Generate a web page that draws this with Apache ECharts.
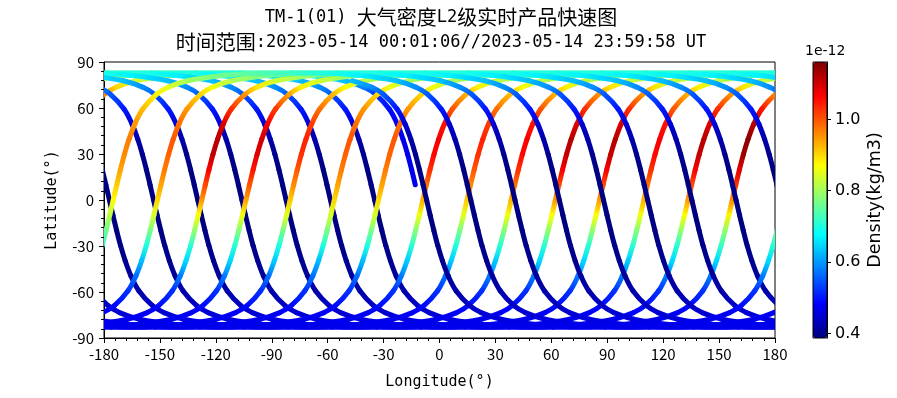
<!DOCTYPE html>
<html>
<head>
<meta charset="utf-8">
<script src="https://cdn.jsdelivr.net/npm/echarts@6/dist/echarts.min.js"></script>
<style>
  html, body { margin: 0; background: #fff; }
  #chart { width: 897px; height: 398px; }
</style>
</head>
<body>
<div id="chart"></div>
<script>
// shape of one orbit, relative to its ascending node:
// south apex -> ascending node -> north apex -> descending node -> south apex
const trackDLon = [95.92, 76.00, 59.92, 39.91, 29.40, 23.12, 15.87, 11.55, 8.47, 6.00, 3.86, 1.89, 0,
  -1.89, -3.86, -6.00, -8.47, -11.55, -15.87, -23.12, -29.40, -39.91, -59.92, -76.00, -95.92,
  -115.84, -131.92, -151.93, -162.44, -168.72, -175.97, -180.29, -183.37, -185.84, -187.98, -189.95, -191.84,
  -193.73, -195.70, -197.84, -200.31, -203.39, -207.71, -214.96, -221.24, -231.75, -251.76, -267.84, -287.76]
const trackLat = [-83.0, -82.6, -81.4, -77.8, -73.5, -68.9, -59.3, -49.5, -39.6, -29.8, -19.8, -9.9, 0,
  9.9, 19.8, 29.8, 39.6, 49.5, 59.3, 68.9, 73.5, 77.8, 81.4, 82.6, 83.0,
  82.6, 81.4, 77.8, 73.5, 68.9, 59.3, 49.5, 39.6, 29.8, 19.8, 9.9, 0,
  -9.9, -19.8, -29.8, -39.6, -49.5, -59.3, -68.9, -73.5, -77.8, -81.4, -82.6, -83.0]

// ascending node longitude of each orbit of the day (in time order)
const nodeLon = [-11.1, -34.8, -58.5, -82.3, -106.0, -129.7, -153.4, -177.1,
  159.1, 135.4, 111.7, 88.0, 64.3, 40.5, 16.8, -6.9]
// first / last point of the track drawn for each orbit (data starts and ends mid-orbit)
const passFrom = [13, 0, 0, 0, 0, 0, 0, 0, 0, 0, 0, 0, 0, 0, 0, 0]
const passTo = [48, 48, 48, 48, 48, 48, 48, 48, 48, 48, 48, 48, 48, 48, 48, 21]

// density (1e-12 kg/m3) on the night (ascending) half, points 0..24
const nightDensity = [0.47, 0.47, 0.47, 0.46, 0.45, 0.44, 0.42, 0.41, 0.40, 0.395, 0.39, 0.39, 0.39,
  0.39, 0.39, 0.40, 0.42, 0.45, 0.50, 0.55, 0.59, 0.63, 0.67, 0.70, 0.72]
// first orbit starts at point 13
const firstNightDensity = [0.47, 0.47, 0.47, 0.47, 0.48, 0.49, 0.52, 0.58, 0.63, 0.67, 0.70, 0.72]
// density on the day (descending) half, points 25..48, one row per orbit
const dayDensity = [
  [0.75, 0.78, 0.84, 0.90, 0.96, 1.05, 1.12, 1.15, 1.14, 1.09, 1.03, 0.96, 0.88, 0.79, 0.72, 0.65, 0.58, 0.52, 0.49, 0.48, 0.47, 0.47, 0.47, 0.47],
  [0.75, 0.78, 0.83, 0.89, 0.95, 1.03, 1.09, 1.12, 1.11, 1.07, 1.01, 0.95, 0.87, 0.79, 0.71, 0.65, 0.58, 0.52, 0.49, 0.48, 0.47, 0.47, 0.47, 0.47],
  [0.75, 0.77, 0.82, 0.88, 0.93, 1.00, 1.05, 1.07, 1.06, 1.03, 0.98, 0.93, 0.86, 0.78, 0.71, 0.64, 0.58, 0.52, 0.49, 0.48, 0.47, 0.47, 0.47, 0.47],
  [0.75, 0.78, 0.83, 0.89, 0.95, 1.03, 1.09, 1.12, 1.11, 1.07, 1.01, 0.95, 0.87, 0.79, 0.71, 0.65, 0.58, 0.52, 0.49, 0.48, 0.47, 0.47, 0.47, 0.47],
  [0.75, 0.78, 0.83, 0.89, 0.95, 1.03, 1.09, 1.12, 1.11, 1.07, 1.01, 0.95, 0.87, 0.79, 0.71, 0.65, 0.58, 0.52, 0.49, 0.48, 0.47, 0.47, 0.47, 0.47],
  [0.75, 0.77, 0.82, 0.88, 0.93, 1.00, 1.05, 1.07, 1.06, 1.03, 0.98, 0.93, 0.86, 0.78, 0.71, 0.64, 0.58, 0.52, 0.49, 0.48, 0.47, 0.47, 0.47, 0.47],
  [0.74, 0.77, 0.82, 0.87, 0.92, 0.98, 1.02, 1.04, 1.03, 1.00, 0.96, 0.91, 0.85, 0.77, 0.70, 0.64, 0.57, 0.52, 0.49, 0.48, 0.47, 0.47, 0.47, 0.47],
  [0.75, 0.77, 0.82, 0.88, 0.93, 1.00, 1.05, 1.07, 1.06, 1.03, 0.98, 0.93, 0.86, 0.78, 0.71, 0.64, 0.58, 0.52, 0.49, 0.48, 0.47, 0.47, 0.47, 0.47],
  [0.74, 0.76, 0.81, 0.86, 0.90, 0.95, 0.98, 1.00, 0.99, 0.97, 0.94, 0.90, 0.84, 0.77, 0.70, 0.63, 0.57, 0.52, 0.49, 0.48, 0.47, 0.47, 0.47, 0.47],
  [0.74, 0.76, 0.81, 0.86, 0.90, 0.95, 0.98, 1.00, 0.99, 0.97, 0.94, 0.90, 0.84, 0.77, 0.70, 0.63, 0.57, 0.52, 0.49, 0.48, 0.47, 0.47, 0.47, 0.47],
  [0.74, 0.77, 0.82, 0.87, 0.92, 0.98, 1.02, 1.04, 1.03, 1.00, 0.96, 0.91, 0.85, 0.77, 0.70, 0.64, 0.57, 0.52, 0.49, 0.48, 0.47, 0.47, 0.47, 0.47],
  [0.75, 0.77, 0.83, 0.88, 0.94, 1.02, 1.07, 1.10, 1.09, 1.05, 1.00, 0.94, 0.86, 0.78, 0.71, 0.65, 0.58, 0.52, 0.49, 0.48, 0.47, 0.47, 0.47, 0.47],
  [0.75, 0.78, 0.83, 0.89, 0.95, 1.03, 1.09, 1.12, 1.11, 1.07, 1.01, 0.95, 0.87, 0.79, 0.71, 0.65, 0.58, 0.52, 0.49, 0.48, 0.47, 0.47, 0.47, 0.47],
  [0.74, 0.76, 0.81, 0.86, 0.90, 0.95, 0.98, 1.00, 0.99, 0.97, 0.94, 0.90, 0.84, 0.77, 0.70, 0.63, 0.57, 0.52, 0.49, 0.48, 0.47, 0.47, 0.47, 0.47],
  [0.74, 0.76, 0.80, 0.85, 0.88, 0.92, 0.95, 0.97, 0.96, 0.94, 0.91, 0.87, 0.82, 0.76, 0.71, 0.65, 0.58, 0.52, 0.49, 0.48, 0.47, 0.47, 0.47, 0.47]
]

const densityMin = 0.387
const densityMax = 1.161
const densityTicks = [0.4, 0.6, 0.8, 1.0]
const jet = ['#00007f', '#0000ff', '#007fff', '#00ffff', '#7fff7f', '#ffff00', '#ff7f00', '#ff0000', '#7f0000']

const cjkFont = "'Noto Sans CJK SC', sans-serif"
const monoFont = "'DejaVu Sans Mono', monospace"
const barFont = "'DejaVu Sans', sans-serif"

const densityAt = function(n, i) {
  if (i <= 24) return n === 0 ? firstNightDensity[i - 13] : nightDensity[i]
  return dayDensity[n][i - 25]
}

const jetColor = function(d) {
  const t = Math.min(1, Math.max(0, (d - densityMin) / (densityMax - densityMin)))
  return echarts.color.lerp(t, jet)
}

const renderOrbit = function(params, api) {
  const n = params.dataIndex
  const cs = params.coordSys
  const children = []
  // the track is continuous in longitude; draw it once per 360 degree wrap
  ;[-360, 0, 360].forEach(function(wrap) {
    const pts = []
    for (let i = passFrom[n]; i <= passTo[n]; i++) {
      pts.push({
        p: api.coord([nodeLon[n] + trackDLon[i] + wrap, trackLat[i]]),
        c: jetColor(densityAt(n, i))
      })
    }
    for (let k = 0; k < pts.length - 1; k++) {
      const a = pts[k].p, b = pts[k + 1].p
      if (Math.max(a[0], b[0]) < cs.x - 10 || Math.min(a[0], b[0]) > cs.x + cs.width + 10) continue
      const p0 = k > 0 ? pts[k - 1].p : a
      const p3 = k + 2 < pts.length ? pts[k + 2].p : b
      children.push({
        type: 'bezierCurve',
        shape: {
          x1: a[0], y1: a[1], x2: b[0], y2: b[1],
          cpx1: a[0] + (b[0] - p0[0]) / 6, cpy1: a[1] + (b[1] - p0[1]) / 6,
          cpx2: b[0] - (p3[0] - a[0]) / 6, cpy2: b[1] - (p3[1] - a[1]) / 6
        },
        style: {
          fill: 'none',
          lineWidth: 5,
          lineCap: 'round',
          stroke: new echarts.graphic.LinearGradient(a[0], a[1], b[0], b[1], [
            { offset: 0, color: pts[k].c },
            { offset: 1, color: pts[k + 1].c }
          ], true)
        }
      })
    }
  })
  return {
    type: 'group',
    clipPath: { type: 'rect', shape: { x: cs.x, y: cs.y, width: cs.width, height: cs.height } },
    children: children
  }
}

const tickText = { color: '#000', fontSize: 15, fontFamily: cjkFont }
const nameText = { color: '#000', fontSize: 15, fontFamily: monoFont }

const chart = echarts.init(document.getElementById('chart'))
chart.setOption({
  animation: false,
  backgroundColor: '#fff',
  title: [
    {
      text: '{a|TM-1(01) }{c|大气密度}{a|L2}{c|级实时产品快速图}\n{c|时间范围}{a|:2023-05-14 00:01:06//2023-05-14 23:59:58 UT}',
      left: 436,
      top: 0,
      textAlign: 'center',
      textStyle: {
        fontWeight: 'normal',
        rich: {
          a: { color: '#000', fontSize: 17, fontWeight: 'normal', fontFamily: monoFont, lineHeight: 25, verticalAlign: 'middle' },
          c: { color: '#000', fontSize: 20, fontWeight: 'normal', fontFamily: cjkFont, lineHeight: 25, verticalAlign: 'middle' }
        }
      }
    },
    {
      text: '1e-12',
      left: 800,
      top: 39,
      textStyle: { color: '#000', fontSize: 14, fontWeight: 'normal', fontFamily: barFont }
    }
  ],
  grid: [
    { left: 104, top: 62, width: 671, height: 276, show: true, borderColor: '#000', borderWidth: 1, backgroundColor: 'rgba(0,0,0,0)' },
    { left: 813, top: 62, width: 14, height: 276, show: true, borderColor: '#000', borderWidth: 1, backgroundColor: 'rgba(0,0,0,0)', z: 10 }
  ],
  visualMap: {
    type: 'continuous',
    min: densityMin,
    max: densityMax,
    inRange: { color: jet },
    left: 813,
    top: 62,
    itemWidth: 14,
    itemHeight: 276,
    padding: 0,
    calculable: false,
    hoverLink: false,
    dimension: 2
  },
  xAxis: [
    {
      gridIndex: 0,
      type: 'value',
      min: -180,
      max: 180,
      interval: 30,
      name: 'Longitude(°)',
      nameLocation: 'middle',
      nameGap: 37,
      nameTextStyle: nameText,
      axisLine: { show: true, onZero: false, lineStyle: { color: '#000', width: 1 } },
      axisTick: { show: true, length: 5, lineStyle: { color: '#000' } },
      minorTick: { show: true, splitNumber: 5, length: 3, lineStyle: { color: '#000' } },
      axisLabel: Object.assign({ margin: 9, showMinLabel: true, showMaxLabel: true }, tickText),
      splitLine: { show: false }
    },
    { gridIndex: 1, type: 'value', show: false }
  ],
  yAxis: [
    {
      gridIndex: 0,
      type: 'value',
      min: -90,
      max: 90,
      interval: 30,
      name: 'Latitude(°)',
      nameLocation: 'middle',
      nameGap: 44,
      nameTextStyle: nameText,
      axisLine: { show: true, onZero: false, lineStyle: { color: '#000', width: 1 } },
      axisTick: { show: true, length: 5, lineStyle: { color: '#000' } },
      minorTick: { show: true, splitNumber: 5, length: 3, lineStyle: { color: '#000' } },
      axisLabel: Object.assign({ margin: 10, showMinLabel: true, showMaxLabel: true }, tickText),
      splitLine: { show: false }
    },
    {
      gridIndex: 1,
      type: 'value',
      position: 'right',
      min: densityMin,
      max: densityMax,
      z: 10,
      name: 'Density(kg/m3)',
      nameLocation: 'middle',
      nameGap: 39,
      nameRotate: 90,
      nameTextStyle: { color: '#000', fontSize: 17.5, fontFamily: barFont },
      axisLine: { show: true, onZero: false, lineStyle: { color: '#000', width: 1 } },
      axisTick: { show: true, length: 4, customValues: densityTicks, lineStyle: { color: '#000' } },
      axisLabel: {
        customValues: densityTicks,
        formatter: function(v) { return v.toFixed(1) },
        color: '#000', fontSize: 16, fontFamily: barFont, margin: 8
      },
      splitLine: { show: false }
    }
  ],
  series: [
    {
      type: 'custom',
      coordinateSystem: 'cartesian2d',
      xAxisIndex: 0,
      yAxisIndex: 0,
      silent: true,
      clip: true,
      data: nodeLon.map(function(lon, n) { return [0, 0, n] }),
      renderItem: renderOrbit
    }
  ]
})
</script>
</body>
</html>
